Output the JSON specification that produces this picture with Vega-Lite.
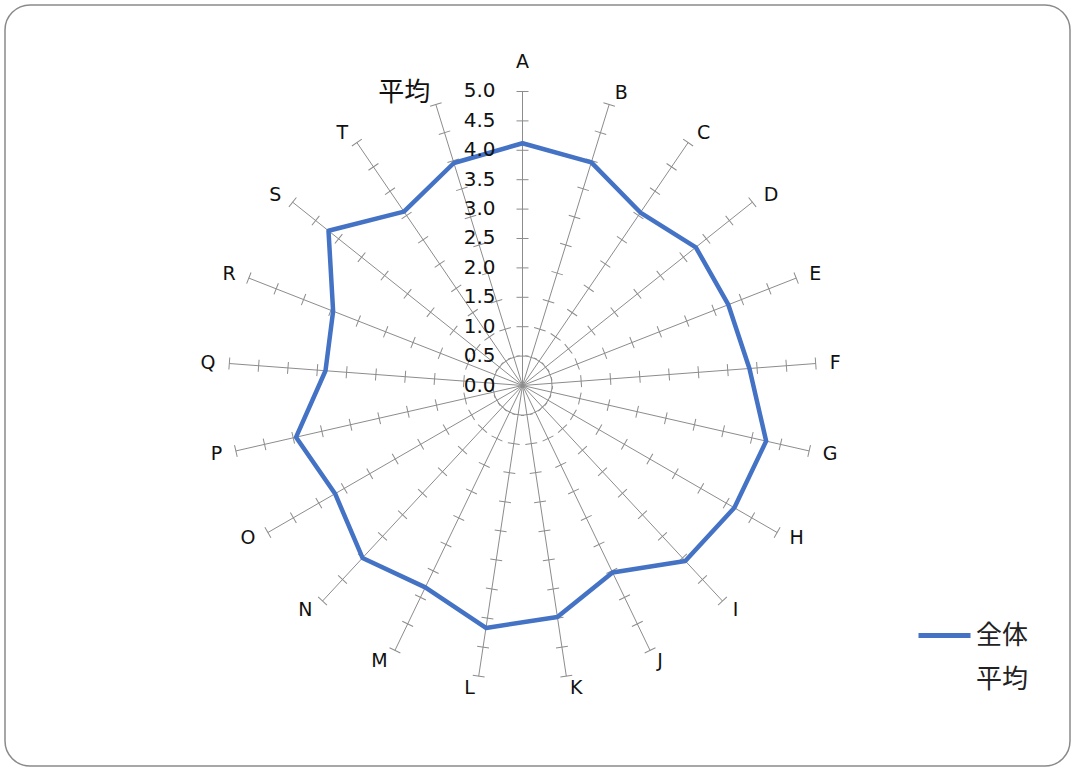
{
  "$schema": "https://vega.github.io/schema/vega-lite/v6.json",
  "width": 1065,
  "height": 761,
  "padding": {"left": 5, "top": 5, "right": 3, "bottom": 3},
  "autosize": {"type": "none"},
  "background": "white",
  "view": {"stroke": "#8a8a8a", "strokeWidth": 1.5, "cornerRadius": 25, "fill": "white"},
  "config": {"font": "DejaVu Sans, Noto Sans CJK JP"},
  "datasets": {
    "cats": [
      {"cat": "A", "idx": 0, "value": 4.12, "series": "全体"},
      {"cat": "B", "idx": 1, "value": 3.97, "series": "全体"},
      {"cat": "C", "idx": 2, "value": 3.56, "series": "全体"},
      {"cat": "D", "idx": 3, "value": 3.77, "series": "全体"},
      {"cat": "E", "idx": 4, "value": 3.76, "series": "全体"},
      {"cat": "F", "idx": 5, "value": 3.87, "series": "全体"},
      {"cat": "G", "idx": 6, "value": 4.25, "series": "全体"},
      {"cat": "H", "idx": 7, "value": 4.16, "series": "全体"},
      {"cat": "I", "idx": 8, "value": 4.07, "series": "全体"},
      {"cat": "J", "idx": 9, "value": 3.53, "series": "全体"},
      {"cat": "K", "idx": 10, "value": 3.98, "series": "全体"},
      {"cat": "L", "idx": 11, "value": 4.17, "series": "全体"},
      {"cat": "M", "idx": 12, "value": 3.81, "series": "全体"},
      {"cat": "N", "idx": 13, "value": 4.0, "series": "全体"},
      {"cat": "O", "idx": 14, "value": 3.68, "series": "全体"},
      {"cat": "P", "idx": 15, "value": 3.95, "series": "全体"},
      {"cat": "Q", "idx": 16, "value": 3.36, "series": "全体"},
      {"cat": "R", "idx": 17, "value": 3.46, "series": "全体"},
      {"cat": "S", "idx": 18, "value": 4.22, "series": "全体"},
      {"cat": "T", "idx": 19, "value": 3.58, "series": "全体"},
      {"cat": "平均", "idx": 20, "value": 3.96, "series": "全体"}
    ],
    "levels": [
      {"level": 0}, {"level": 0.5}, {"level": 1}, {"level": 1.5}, {"level": 2}, {"level": 2.5},
      {"level": 3}, {"level": 3.5}, {"level": 4}, {"level": 4.5}, {"level": 5}
    ]
  },
  "encoding": {
    "x": {"field": "px", "type": "quantitative", "scale": {"domain": [-8.801, 9.311], "nice": false, "zero": false}, "axis": null},
    "y": {"field": "py", "type": "quantitative", "scale": {"domain": [-6.471, 6.471], "nice": false, "zero": false}, "axis": null}
  },
  "layer": [
    {
      "data": {"name": "cats"},
      "transform": [
        {"calculate": "datum.idx*2*PI/21", "as": "th"},
        {"calculate": "0", "as": "px"},
        {"calculate": "0", "as": "py"},
        {"calculate": "5*sin(datum.th)", "as": "ex"},
        {"calculate": "5*cos(datum.th)", "as": "ey"}
      ],
      "mark": {"type": "rule", "stroke": "#8c8c8c", "strokeWidth": 1},
      "encoding": {
        "x2": {"field": "ex"},
        "y2": {"field": "ey"}
      }
    },
    {
      "data": {"name": "cats"},
      "transform": [
        {"calculate": "[0.5,1,1.5,2,2.5,3,3.5,4,4.5,5]", "as": "lv"},
        {"flatten": ["lv"]},
        {"calculate": "datum.idx*2*PI/21", "as": "th"},
        {"calculate": "datum.lv*sin(datum.th)", "as": "px"},
        {"calculate": "datum.lv*cos(datum.th)", "as": "py"},
        {"calculate": "datum.idx*360/21", "as": "ang"}
      ],
      "mark": {"type": "point", "shape": "M-1,0L1,0", "size": 144, "filled": false, "stroke": "#8c8c8c", "strokeWidth": 1, "opacity": 1},
      "encoding": {
        "angle": {"field": "ang", "type": "quantitative", "scale": null}
      }
    },
    {
      "data": {"name": "cats"},
      "transform": [
        {"calculate": "datum.idx*2*PI/21", "as": "th"},
        {"calculate": "datum.value*sin(datum.th)", "as": "px"},
        {"calculate": "datum.value*cos(datum.th)", "as": "py"}
      ],
      "mark": {"type": "line", "interpolate": "linear-closed", "strokeWidth": 4.5, "strokeJoin": "round"},
      "encoding": {
        "order": {"field": "idx", "type": "quantitative"},
        "color": {
          "field": "series",
          "type": "nominal",
          "scale": {"domain": ["全体", "平均"], "range": ["#4472C4", "rgba(0,0,0,0)"]},
          "legend": {
            "title": null,
            "orient": "none",
            "legendX": 911,
            "legendY": 602,
            "symbolType": "stroke",
            "symbolSize": 2704,
            "symbolStrokeWidth": 5,
            "labelFontSize": 26,
            "labelFont": "Noto Sans CJK JP",
            "labelColor": "#222",
            "labelOffset": 3,
            "rowPadding": 2
          }
        }
      }
    },
    {
      "data": {"name": "levels"},
      "transform": [
        {"calculate": "0", "as": "px"},
        {"calculate": "datum.level", "as": "py"}
      ],
      "mark": {"type": "text", "align": "right", "baseline": "middle", "dx": -27, "fontSize": 20, "color": "#111"},
      "encoding": {
        "text": {"field": "level", "type": "quantitative", "format": ".1f"}
      }
    },
    {
      "data": {"name": "cats"},
      "transform": [
        {"filter": "datum.idx === 0"},
        {"calculate": "0", "as": "px"},
        {"calculate": "5", "as": "py"}
      ],
      "mark": {"type": "text", "align": "center", "baseline": "middle", "dy": -29, "fontSize": 19, "color": "#111"},
      "encoding": {
        "text": {"field": "cat", "type": "nominal"}
      }
    },
    {
      "data": {"name": "cats"},
      "transform": [
        {"filter": "datum.idx >= 1 && datum.idx <= 10"},
        {"calculate": "datum.idx*2*PI/21", "as": "th"},
        {"calculate": "5.204*sin(datum.th)", "as": "px"},
        {"calculate": "5.204*cos(datum.th)", "as": "py"}
      ],
      "mark": {"type": "text", "align": "left", "baseline": "middle", "dx": 2, "fontSize": 19, "color": "#111"},
      "encoding": {
        "text": {"field": "cat", "type": "nominal"}
      }
    },
    {
      "data": {"name": "cats"},
      "transform": [
        {"filter": "datum.idx >= 11"},
        {"calculate": "datum.idx*2*PI/21", "as": "th"},
        {"calculate": "5.204*sin(datum.th)", "as": "px"},
        {"calculate": "5.204*cos(datum.th)", "as": "py"}
      ],
      "mark": {"type": "text", "align": "right", "baseline": "middle", "dx": -2, "color": "#111"},
      "encoding": {
        "text": {"field": "cat", "type": "nominal"},
        "size": {"condition": {"test": "datum.idx === 20", "value": 26}, "value": 19}
      }
    }
  ]
}
